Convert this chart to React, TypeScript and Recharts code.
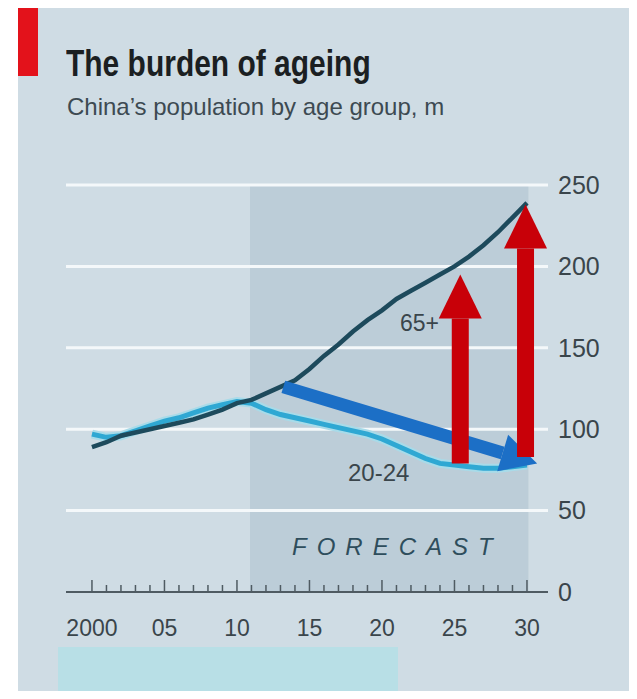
import { LineChart, Line, XAxis, YAxis, ReferenceArea, ReferenceLine } from "recharts";

// years 2000-2030, millions of people
const YEARS = [
  2000, 2001, 2002, 2003, 2004, 2005, 2006, 2007, 2008, 2009, 2010, 2011, 2012, 2013, 2014, 2015,
  2016, 2017, 2018, 2019, 2020, 2021, 2022, 2023, 2024, 2025, 2026, 2027, 2028, 2029, 2030,
];
const OVER_65 = [
  89, 92, 96, 98, 100, 102, 104, 106, 109, 112, 116, 118, 122, 126, 130, 137,
  145, 152, 160, 167, 173, 180, 185, 190, 195, 200, 206, 213, 221, 230, 239,
];
const AGE_20_24 = [
  97, 95, 96, 99, 102, 105, 107, 110, 113, 115, 117, 116, 112, 109, 107, 105,
  103, 101, 99, 97, 94, 90, 86, 82, 79, 78, 77, 76, 76, 77, 78,
];
const Y_TICKS = [0, 50, 100, 150, 200, 250];
const GRID_LINES = [50, 100, 150, 200, 250];
const FORECAST_FROM = 2010.9;
const FORECAST_TO = 2030.1;

// annotation arrows, in data space: [fromYear, fromValue, toYear, toValue]
const BLUE_ARROW = [2013.2, 126, 2030.7, 79];
const RED_ARROWS = [
  [2025.4, 79, 2025.4, 195],
  [2029.9, 83, 2029.9, 238],
];

const data = YEARS.map((year, i) => ({ year, old: OVER_65[i], young: AGE_20_24[i] }));

const INK = "#3a454b";
const FONT = "'Liberation Sans', Arial, sans-serif";

function YearTick({ x, y, payload }: any) {
  const yr = payload.value as number;
  const major = yr % 5 === 0;
  const label = yr === 2000 ? "2000" : String(yr % 100).padStart(2, "0");
  return (
    <g>
      <line x1={x} x2={x} y1={y} y2={y - (major ? 12 : 7)} stroke="#4f5b62" strokeWidth={1.5} />
      {major && (
        <text x={x} y={y + 44} textAnchor="middle" fontSize={23} fill={INK} fontFamily={FONT}>
          {label}
        </text>
      )}
    </g>
  );
}

// ReferenceLine shape: thick line with a triangular head at (x2, y2)
function arrowShape(color: string, shaft: number, headLen: number, headW: number) {
  return (props: any) => {
    const { x1, y1, x2, y2 } = props;
    const dx = x2 - x1;
    const dy = y2 - y1;
    const len = Math.sqrt(dx * dx + dy * dy) || 1;
    const ux = dx / len;
    const uy = dy / len;
    const bx = x2 - ux * headLen;
    const by = y2 - uy * headLen;
    const px = -uy * (headW / 2);
    const py = ux * (headW / 2);
    return (
      <g>
        <line x1={x1} y1={y1} x2={bx} y2={by} stroke={color} strokeWidth={shaft} />
        <polygon points={`${x2},${y2} ${bx + px},${by + py} ${bx - px},${by - py}`} fill={color} />
      </g>
    );
  };
}

export default function App() {
  return (
    <div style={{ position: "relative", width: 637, height: 699, margin: -8, overflow: "hidden", background: "#fff" }}>
      <div style={{ position: "absolute", left: 18, top: 8, right: 0, bottom: 0, background: "#cfdce4" }} />
      <div style={{ position: "absolute", left: 18, top: 8, width: 20, height: 68, background: "#e3121b" }} />
      <div style={{ position: "absolute", left: 58, top: 647, width: 340, height: 52, background: "#b8dfe6" }} />

      <div
        style={{
          position: "absolute", left: 66, top: 45, fontSize: 37, lineHeight: 1, fontWeight: 700,
          fontFamily: FONT, color: "#1b1f22", whiteSpace: "nowrap",
          transform: "scaleX(0.81)", transformOrigin: "left top",
        }}
      >
        The burden of ageing
      </div>
      <div
        style={{
          position: "absolute", left: 67, top: 95, fontSize: 24, lineHeight: 1,
          fontFamily: FONT, color: "#3d4a52", whiteSpace: "nowrap",
        }}
      >
        China’s population by age group, m
      </div>

      <div style={{ position: "absolute", left: 0, top: 0 }}>
        <LineChart width={637} height={699} data={data} margin={{ top: 185, right: 0, left: 66, bottom: 57 }}>
          <ReferenceArea
            x1={FORECAST_FROM}
            x2={FORECAST_TO}
            y1={0}
            y2={250}
            fill="#bccdd8"
            fillOpacity={1}
            stroke="none"
            zIndex={-200}
          />
          {GRID_LINES.map((v) => (
            <ReferenceLine key={v} y={v} stroke="#f4f8fa" strokeWidth={3} zIndex={-150} />
          ))}
          <XAxis
            dataKey="year"
            type="number"
            domain={[1998.21, 2031.45]}
            ticks={YEARS}
            interval={0}
            height={50}
            tickSize={0}
            tickMargin={0}
            tickLine={false}
            axisLine={{ stroke: "#4f5b62", strokeWidth: 2 }}
            tick={<YearTick />}
          />
          <YAxis
            orientation="right"
            width={89}
            domain={[0, 250]}
            ticks={Y_TICKS}
            tickSize={0}
            tickMargin={10}
            tickLine={false}
            axisLine={false}
            tick={{ fontSize: 25, fill: INK, fontFamily: FONT }}
          />
          <Line dataKey="young" stroke="#a8dbe9" strokeWidth={9} dot={false} isAnimationActive={false} />
          <Line dataKey="young" stroke="#2fa8d3" strokeWidth={5} dot={false} isAnimationActive={false} />
          <Line dataKey="old" stroke="#1d4a5c" strokeWidth={4.5} dot={false} isAnimationActive={false} />
          <ReferenceLine
            segment={[
              { x: BLUE_ARROW[0], y: BLUE_ARROW[1] },
              { x: BLUE_ARROW[2], y: BLUE_ARROW[3] },
            ]}
            shape={arrowShape("#1c6fc6", 13, 36, 38)}
            zIndex={450}
          />
          {RED_ARROWS.map((a, i) => (
            <ReferenceLine
              key={i}
              segment={[
                { x: a[0], y: a[1] },
                { x: a[2], y: a[3] },
              ]}
              shape={arrowShape("#c80008", 17, 44, 43)}
              zIndex={460}
            />
          ))}
        </LineChart>
      </div>

      <div style={{ position: "absolute", left: 400, top: 312, fontSize: 23, lineHeight: 1, fontFamily: FONT, color: INK }}>
        65+
      </div>
      <div style={{ position: "absolute", left: 348, top: 461, fontSize: 24, lineHeight: 1, fontFamily: FONT, color: INK }}>
        20-24
      </div>
      <div
        style={{
          position: "absolute", left: 292, top: 535, fontSize: 24, lineHeight: 1, fontFamily: FONT,
          fontStyle: "italic", letterSpacing: 10, color: "#2e4d5c",
        }}
      >
        FORECAST
      </div>
    </div>
  );
}
